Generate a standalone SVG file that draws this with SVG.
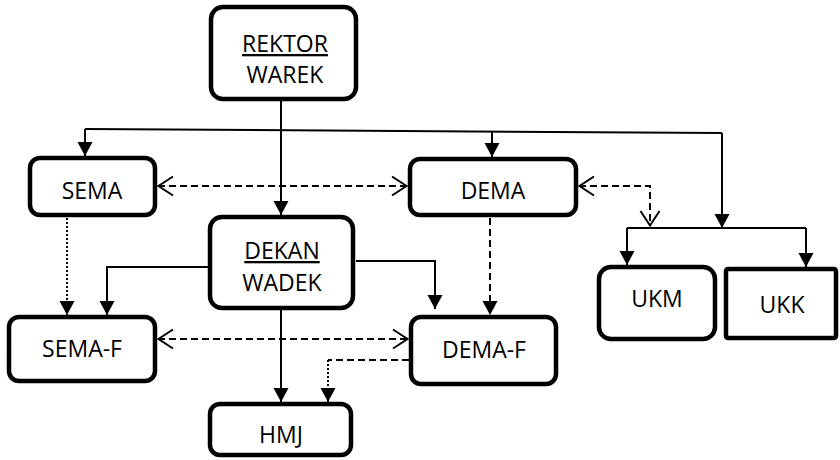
<svg xmlns="http://www.w3.org/2000/svg" width="840" height="460" viewBox="0 0 840 460">
<defs>
<marker id="solid" markerUnits="userSpaceOnUse" markerWidth="15" markerHeight="16" refX="14" refY="8" orient="auto-start-reverse">
<path d="M0,0.5 L14,8 L0,15.5 z" fill="#000"/>
</marker>
<marker id="open" markerUnits="userSpaceOnUse" markerWidth="18" markerHeight="22" refX="16" refY="11" orient="auto-start-reverse">
<path d="M1,1.5 L15.5,11 L1,20.5" fill="none" stroke="#000" stroke-width="2"/>
</marker>
<style>
.box{fill:#fff;stroke:#000;stroke-width:4.5}
.lbl{font-family:"Open Sans","Liberation Sans",sans-serif;font-size:23px;fill:#000;text-anchor:middle}
.u{text-decoration:underline}
.ln{fill:none;stroke:#000;stroke-width:2}
.dash{stroke-dasharray:7 4}
.dot{stroke-dasharray:2 2}
</style>
</defs>
<g id="connectors">
<path class="ln" d="M281,101 V215" marker-end="url(#solid)"/>
<path class="ln" d="M85,129 L722,133"/>
<path class="ln" d="M85,129 V156" marker-end="url(#solid)"/>
<path class="ln" d="M492,131 V157" marker-end="url(#solid)"/>
<path class="ln" d="M722,133 V228" marker-end="url(#solid)"/>
<path class="ln" d="M627,228 H806"/>
<path class="ln" d="M627,228 V265" marker-end="url(#solid)"/>
<path class="ln" d="M806,228 V267" marker-end="url(#solid)"/>
<path class="ln dash" d="M158,186 H407" marker-start="url(#open)" marker-end="url(#open)"/>
<path class="ln dash" d="M579,186 H650 V226" marker-start="url(#open)" marker-end="url(#open)"/>
<path class="ln dot" d="M67,218 V315" marker-end="url(#solid)"/>
<path class="ln" d="M209,267 H107 V315" marker-end="url(#solid)"/>
<path class="ln" d="M356,261 H435 V309" marker-end="url(#solid)"/>
<path class="ln dash" d="M490,218 V315" marker-end="url(#solid)"/>
<path class="ln dash" d="M158,339 H408" marker-start="url(#open)" marker-end="url(#open)"/>
<path class="ln" d="M281,310 V402" marker-end="url(#solid)"/>
<path class="ln dash" d="M409,360 H328"/>
<path class="ln dot" d="M328,360 V402" marker-end="url(#solid)"/>
</g>
<g id="rektor">
<rect class="box" x="211" y="7" width="145" height="92" rx="12"/>
<text class="lbl u" x="285" y="52">REKTOR</text>
<text class="lbl" x="285" y="83">WAREK</text>
</g>
<g id="sema">
<rect class="box" x="30" y="158" width="125" height="57" rx="10"/>
<text class="lbl" x="92" y="199">SEMA</text>
</g>
<g id="dema">
<rect class="box" x="410" y="159" width="166" height="56" rx="10"/>
<text class="lbl" x="493" y="199">DEMA</text>
</g>
<g id="dekan">
<rect class="box" x="210" y="217" width="143" height="91" rx="12"/>
<text class="lbl u" x="282" y="259">DEKAN</text>
<text class="lbl" x="282" y="291">WADEK</text>
</g>
<g id="sema-f">
<rect class="box" x="9" y="317" width="146" height="64" rx="10"/>
<text class="lbl" x="82" y="357">SEMA-F</text>
</g>
<g id="dema-f">
<rect class="box" x="411" y="317" width="145" height="67" rx="10"/>
<text class="lbl" x="484" y="358">DEMA-F</text>
</g>
<g id="hmj">
<rect class="box" x="210" y="404" width="141" height="51" rx="10"/>
<text class="lbl" x="281" y="443">HMJ</text>
</g>
<g id="ukm">
<rect class="box" x="599" y="267" width="116" height="72" rx="12"/>
<text class="lbl" x="657" y="307">UKM</text>
</g>
<g id="ukk">
<rect class="box" x="726" y="269" width="110" height="69" rx="2"/>
<text class="lbl" x="782" y="313">UKK</text>
</g>
</svg>
